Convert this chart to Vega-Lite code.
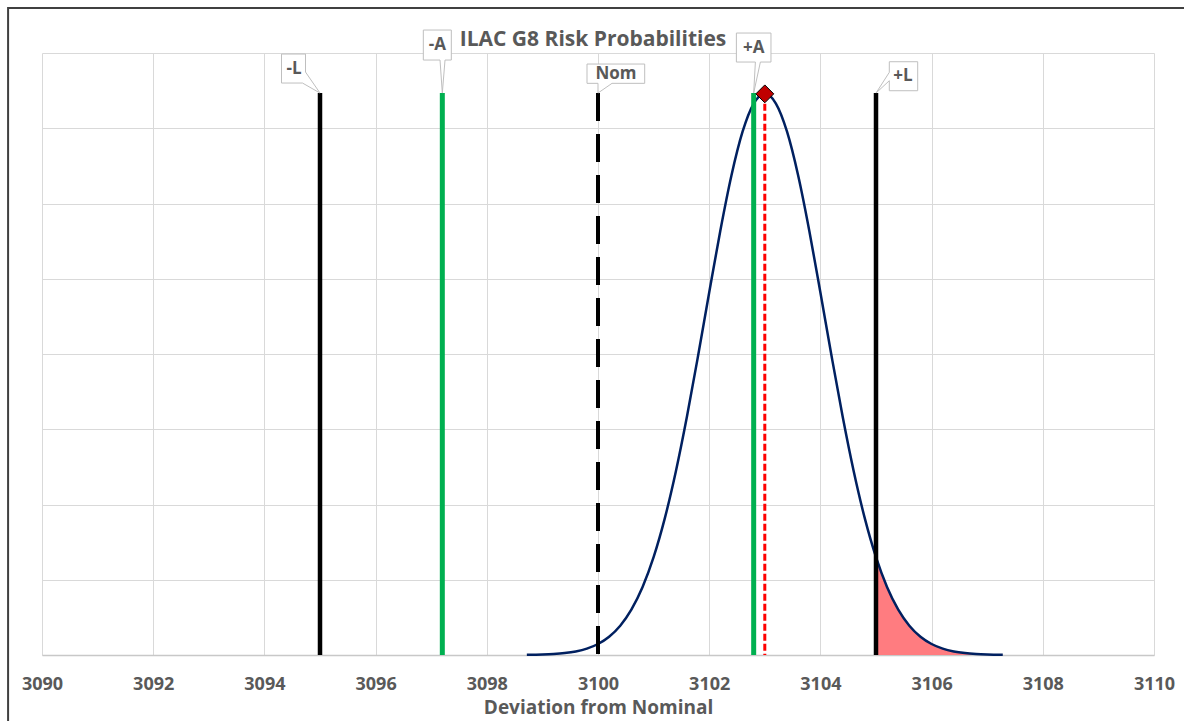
{
  "$schema": "https://vega.github.io/schema/vega-lite/v6.json",
  "width": 1112,
  "height": 602,
  "autosize": {"type": "none"},
  "padding": {"left": 42, "top": 53, "right": 30, "bottom": 66},
  "background": "white",
  "title": {
    "text": "ILAC G8 Risk Probabilities",
    "font": "Open Sans",
    "fontSize": 21,
    "fontWeight": "bold",
    "color": "#595959",
    "anchor": "middle",
    "frame": "group",
    "baseline": "alphabetic",
    "offset": 8,
    "dy": 68,
    "dx": -5
  },
  "config": {
    "view": {"stroke": null},
    "font": "Open Sans"
  },
  "datasets": {
    "curve": [
      {"x": 3098.72, "p": 0.000125},
      {"x": 3099.0, "p": 0.00034},
      {"x": 3099.2, "p": 0.00068},
      {"x": 3099.4, "p": 0.0013},
      {"x": 3099.6, "p": 0.00239},
      {"x": 3099.8, "p": 0.00426},
      {"x": 3100.0, "p": 0.00732},
      {"x": 3100.2, "p": 0.01215},
      {"x": 3100.4, "p": 0.01947},
      {"x": 3100.6, "p": 0.03013},
      {"x": 3100.8, "p": 0.04503},
      {"x": 3101.0, "p": 0.065},
      {"x": 3101.2, "p": 0.09059},
      {"x": 3101.4, "p": 0.1219},
      {"x": 3101.6, "p": 0.15841},
      {"x": 3101.8, "p": 0.19881},
      {"x": 3102.0, "p": 0.24091},
      {"x": 3102.2, "p": 0.28195},
      {"x": 3102.4, "p": 0.31861},
      {"x": 3102.6, "p": 0.34769},
      {"x": 3102.8, "p": 0.36639},
      {"x": 3103.0, "p": 0.37285},
      {"x": 3103.2, "p": 0.36639},
      {"x": 3103.4, "p": 0.34769},
      {"x": 3103.6, "p": 0.31861},
      {"x": 3103.8, "p": 0.28195},
      {"x": 3104.0, "p": 0.24091},
      {"x": 3104.2, "p": 0.19881},
      {"x": 3104.4, "p": 0.15841},
      {"x": 3104.6, "p": 0.1219},
      {"x": 3104.8, "p": 0.09059},
      {"x": 3105.0, "p": 0.065},
      {"x": 3105.2, "p": 0.04503},
      {"x": 3105.4, "p": 0.03013},
      {"x": 3105.6, "p": 0.01947},
      {"x": 3105.8, "p": 0.01215},
      {"x": 3106.0, "p": 0.00732},
      {"x": 3106.2, "p": 0.00426},
      {"x": 3106.4, "p": 0.00239},
      {"x": 3106.6, "p": 0.0013},
      {"x": 3106.8, "p": 0.00068},
      {"x": 3107.0, "p": 0.00034},
      {"x": 3107.28, "p": 0.000125}
    ],
    "lines": [
      {"label": "-L", "kind": "limit", "x": 3095, "top": 0.3734},
      {"label": "-A", "kind": "accept", "x": 3097.2, "top": 0.3734},
      {"label": "Nom", "kind": "nominal", "x": 3100, "top": 0.3734},
      {"label": "+A", "kind": "accept", "x": 3102.8, "top": 0.3734},
      {"label": "+L", "kind": "limit", "x": 3105, "top": 0.3734},
      {"label": "Mean", "kind": "mean", "x": 3103, "top": 0.37285}
    ],
    "frame": [{"name": "chart frame"}]
  },
  "layer": [
    {
      "data": {"name": "curve"},
      "transform": [{"filter": "datum.x >= 3105"}],
      "mark": {"type": "area", "color": "#FF7C80", "opacity": 1, "interpolate": "monotone"},
      "encoding": {
        "x": {
          "field": "x", "type": "quantitative",
          "scale": {"domain": [3090, 3110], "nice": false, "zero": false},
          "axis": {
            "values": [3090, 3092, 3094, 3096, 3098, 3100, 3102, 3104, 3106, 3108, 3110],
            "grid": true,
            "gridColor": "#D9D9D9",
            "gridWidth": 1,
            "domainColor": "#C8C8C8",
            "domainWidth": 1.5,
            "ticks": false,
            "labelFont": "Open Sans",
            "labelFontSize": 18,
            "labelFontWeight": "bold",
            "labelColor": "#595959",
            "labelPadding": 20,
            "labelFlush": false,
            "labelOverlap": false,
            "format": "d",
            "title": "Deviation from Nominal",
            "titleFont": "Open Sans",
            "titleFontSize": 19,
            "titleFontWeight": "bold",
            "titleColor": "#595959",
            "titlePadding": 5
          }
        },
        "y": {
          "field": "p", "type": "quantitative",
          "scale": {"domain": [0, 0.4], "nice": false},
          "axis": {
            "values": [0, 0.05, 0.1, 0.15, 0.2, 0.25, 0.3, 0.35, 0.4],
            "grid": true,
            "gridColor": "#D9D9D9",
            "gridWidth": 1,
            "domain": false,
            "ticks": false,
            "labels": false,
            "title": null
          }
        }
      }
    },
    {
      "data": {"name": "curve"},
      "mark": {"type": "line", "color": "#002060", "strokeWidth": 2.5, "interpolate": "monotone"},
      "encoding": {
        "x": {"field": "x", "type": "quantitative"},
        "y": {"field": "p", "type": "quantitative"}
      }
    },
    {
      "data": {"name": "lines"},
      "transform": [{"filter": "datum.kind == 'limit'"}],
      "mark": {"type": "rule", "color": "#000000", "strokeWidth": 4.5},
      "encoding": {
        "x": {"field": "x", "type": "quantitative"},
        "y": {"field": "top", "type": "quantitative"},
        "y2": {"datum": 0}
      }
    },
    {
      "data": {"name": "lines"},
      "transform": [{"filter": "datum.kind == 'accept'"}],
      "mark": {"type": "rule", "color": "#00B050", "strokeWidth": 5},
      "encoding": {
        "x": {"field": "x", "type": "quantitative"},
        "y": {"field": "top", "type": "quantitative"},
        "y2": {"datum": 0}
      }
    },
    {
      "data": {"name": "lines"},
      "transform": [{"filter": "datum.kind == 'nominal'"}],
      "mark": {"type": "rule", "color": "#000000", "strokeWidth": 4, "strokeDash": [28, 13]},
      "encoding": {
        "x": {"field": "x", "type": "quantitative"},
        "y": {"field": "top", "type": "quantitative"},
        "y2": {"datum": 0}
      }
    },
    {
      "data": {"name": "lines"},
      "transform": [{"filter": "datum.kind == 'mean'"}],
      "mark": {"type": "rule", "color": "#FF0000", "strokeWidth": 3, "strokeDash": [7, 3]},
      "encoding": {
        "x": {"field": "x", "type": "quantitative"},
        "y": {"field": "top", "type": "quantitative"},
        "y2": {"datum": 0}
      }
    },
    {
      "data": {"name": "lines"},
      "transform": [{"filter": "datum.kind == 'mean'"}],
      "mark": {"type": "point", "shape": "diamond", "size": 320, "filled": true, "fill": "#C00000", "stroke": "#000000", "strokeWidth": 1, "opacity": 1},
      "encoding": {
        "x": {"field": "x", "type": "quantitative"},
        "y": {"field": "top", "type": "quantitative"}
      }
    },
    {
      "data": {"name": "lines"},
      "transform": [{"filter": "datum.label == '-L'"}],
      "mark": {"type": "point", "shape": "M-0.385,-0.39L-0.145,-0.39L-0.145,-0.21L0,0L-0.175,-0.1L-0.385,-0.1Z", "size": 40000, "filled": true, "fill": "#FFFFFF", "stroke": "#BFBFBF", "strokeWidth": 1, "opacity": 1},
      "encoding": {"x": {"field": "x", "type": "quantitative"}, "y": {"field": "top", "type": "quantitative"}}
    },
    {
      "data": {"name": "lines"},
      "transform": [{"filter": "datum.label == '-L'"}],
      "mark": {"type": "text", "dx": -26, "dy": -24, "align": "center", "baseline": "middle", "fontSize": 17, "fontWeight": "bold", "color": "#595959"},
      "encoding": {"x": {"field": "x", "type": "quantitative"}, "y": {"field": "top", "type": "quantitative"}, "text": {"field": "label", "type": "nominal"}}
    },
    {
      "data": {"name": "lines"},
      "transform": [{"filter": "datum.label == '-A'"}],
      "mark": {"type": "point", "shape": "M-0.19,-0.63L0.09,-0.63L0.09,-0.33L0.027,-0.33L0,0L-0.023,-0.33L-0.19,-0.33Z", "size": 40000, "filled": true, "fill": "#FFFFFF", "stroke": "#BFBFBF", "strokeWidth": 1, "opacity": 1},
      "encoding": {"x": {"field": "x", "type": "quantitative"}, "y": {"field": "top", "type": "quantitative"}}
    },
    {
      "data": {"name": "lines"},
      "transform": [{"filter": "datum.label == '-A'"}],
      "mark": {"type": "text", "dx": -5, "dy": -48, "align": "center", "baseline": "middle", "fontSize": 17, "fontWeight": "bold", "color": "#595959"},
      "encoding": {"x": {"field": "x", "type": "quantitative"}, "y": {"field": "top", "type": "quantitative"}, "text": {"field": "label", "type": "nominal"}}
    },
    {
      "data": {"name": "lines"},
      "transform": [{"filter": "datum.label == 'Nom'"}],
      "mark": {"type": "point", "shape": "M-0.11,-0.29L0.467,-0.29L0.467,-0.097L0.14,-0.097L0,0L0,-0.097L-0.11,-0.097Z", "size": 40000, "filled": true, "fill": "#FFFFFF", "stroke": "#BFBFBF", "strokeWidth": 1, "opacity": 1},
      "encoding": {"x": {"field": "x", "type": "quantitative"}, "y": {"field": "top", "type": "quantitative"}}
    },
    {
      "data": {"name": "lines"},
      "transform": [{"filter": "datum.label == 'Nom'"}],
      "mark": {"type": "text", "dx": 18, "dy": -19, "align": "center", "baseline": "middle", "fontSize": 17, "fontWeight": "bold", "color": "#595959"},
      "encoding": {"x": {"field": "x", "type": "quantitative"}, "y": {"field": "top", "type": "quantitative"}, "text": {"field": "label", "type": "nominal"}}
    },
    {
      "data": {"name": "lines"},
      "transform": [{"filter": "datum.label == '+A'"}],
      "mark": {"type": "point", "shape": "M-0.173,-0.6L0.173,-0.6L0.173,-0.31L0.067,-0.31L0,0L0.017,-0.31L-0.173,-0.31Z", "size": 40000, "filled": true, "fill": "#FFFFFF", "stroke": "#BFBFBF", "strokeWidth": 1, "opacity": 1},
      "encoding": {"x": {"field": "x", "type": "quantitative"}, "y": {"field": "top", "type": "quantitative"}}
    },
    {
      "data": {"name": "lines"},
      "transform": [{"filter": "datum.label == '+A'"}],
      "mark": {"type": "text", "dx": 0, "dy": -45, "align": "center", "baseline": "middle", "fontSize": 17, "fontWeight": "bold", "color": "#595959"},
      "encoding": {"x": {"field": "x", "type": "quantitative"}, "y": {"field": "top", "type": "quantitative"}, "text": {"field": "label", "type": "nominal"}}
    },
    {
      "data": {"name": "lines"},
      "transform": [{"filter": "datum.label == '+L'"}],
      "mark": {"type": "point", "shape": "M0.133,-0.313L0.417,-0.313L0.417,-0.023L0.133,-0.023L0.133,-0.123L0,0L0.133,-0.207Z", "size": 40000, "filled": true, "fill": "#FFFFFF", "stroke": "#BFBFBF", "strokeWidth": 1, "opacity": 1},
      "encoding": {"x": {"field": "x", "type": "quantitative"}, "y": {"field": "top", "type": "quantitative"}}
    },
    {
      "data": {"name": "lines"},
      "transform": [{"filter": "datum.label == '+L'"}],
      "mark": {"type": "text", "dx": 27, "dy": -17, "align": "center", "baseline": "middle", "fontSize": 17, "fontWeight": "bold", "color": "#595959"},
      "encoding": {"x": {"field": "x", "type": "quantitative"}, "y": {"field": "top", "type": "quantitative"}, "text": {"field": "label", "type": "nominal"}}
    },
    {
      "data": {"name": "frame"},
      "mark": {"type": "rect", "fill": "#FFFFFF", "fillOpacity": 0, "stroke": "#404040", "strokeWidth": 2, "clip": false},
      "encoding": {
        "x": {"datum": 3089.39, "type": "quantitative"},
        "x2": {"datum": 3116},
        "y": {"datum": 0.4299, "type": "quantitative"},
        "y2": {"datum": -0.2}
      }
    }
  ]
}
